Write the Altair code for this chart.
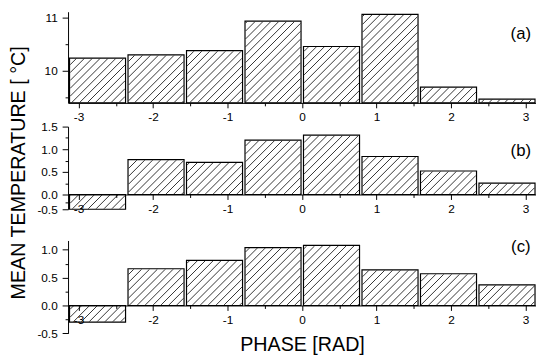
import math
import numpy as np
import pandas as pd
import altair as alt

# ---------------- data ----------------
phase_start = [-3.1416, -2.3562, -1.5708, -0.7854, 0.0, 0.7854, 1.5708, 2.3562]
phase_end = [-2.3562, -1.5708, -0.7854, 0.0, 0.7854, 1.5708, 2.3562, 3.1416]
temp_a = [10.24, 10.30, 10.38, 10.94, 10.46, 11.07, 9.69, 9.46]
temp_b = [-0.50, 0.77, 0.71, 1.20, 1.31, 0.84, 0.52, 0.25]
temp_c = [-0.30, 0.66, 0.81, 1.04, 1.08, 0.64, 0.57, 0.37]
panel_labels = ["(a)", "(b)", "(c)"]
x_major = [-3, -2, -1, 0, 1, 2, 3]
x_minor = [-2.5, -1.5, -0.5, 0.5, 1.5, 2.5]
x_title = "PHASE [RAD]"
y_title = "MEAN TEMPERATURE [ °C]"

FONT = "Liberation Sans"
W = 475.4
XDOM = [-3.1416, 3.1416]
HATCH = 8.0
LEFT = 60.5   # room left of the plot for labels and the y title

panels = [
    dict(values=temp_a, dom=[9.39, 11.12], rng=[92.6, 0], height=92.6, base=9.39,
         ymajor=[10, 11], yminor=[9.5, 10.5], yfmt="d",
         label_y=22.3, ytitle=None, xtitle=None),
    dict(values=temp_b, dom=[-0.5, 0, 1.5], rng=[84, 69, 0], height=91.3, base=0.0,
         ymajor=[-0.5, 0, 0.5, 1.0, 1.5], yminor=[-0.25, 0.25, 0.75, 1.25], yfmt=".1f",
         label_y=25, ytitle=y_title, xtitle=None),
    dict(values=temp_c, dom=[-0.5, 1.168], rng=[94.3, 0], height=94.3, base=0.0,
         ymajor=[-0.5, 0, 0.5, 1.0], yminor=[-0.25, 0.25, 0.75], yfmt=".1f",
         label_y=7, ytitle=None, xtitle=x_title),
]


def xpx(v):
    return (v - XDOM[0]) / (XDOM[1] - XDOM[0]) * W


def xinv(p):
    return XDOM[0] + p / W * (XDOM[1] - XDOM[0])


def hatch_rows(values, dom, rng, base):
    rows = []
    rr = list(rng)[::-1]
    dd = list(dom)[::-1]
    for s, e, v in zip(phase_start, phase_end, values):
        x0 = xpx(s) + 2.1
        x1 = xpx(e) - 1.6
        yv = float(np.interp(v, dom, rng))
        yb = float(np.interp(base, dom, rng))
        yt = min(yv, yb) + 0.6
        ybt = max(yv, yb) - 0.6
        c = math.ceil((x0 + yt) / HATCH) * HATCH
        while c < x1 + ybt:
            xs = max(x0, c - ybt)
            xe = min(x1, c - yt)
            if xe > xs + 0.3:
                rows.append(dict(hx=xinv(xs), hx2=xinv(xe),
                                 hy=float(np.interp(c - xs, rr, dd)),
                                 hy2=float(np.interp(c - xe, rr, dd))))
            c += HATCH
    return pd.DataFrame(rows)


def signed(fmt):
    return "(datum.value < 0 ? '-' : '') + format(abs(datum.value), '%s')" % fmt


charts = []
for i, p in enumerate(panels):
    yscale = alt.Scale(domain=p["dom"], range=p["rng"], nice=False, zero=False)
    xscale = alt.Scale(domain=XDOM, nice=False, zero=False)
    zero_px = float(np.interp(0.0, p["dom"], p["rng"])) if i > 0 else p["height"]
    x_off = zero_px - p["height"]

    bars = pd.DataFrame({"start": phase_start, "end": phase_end,
                         "temp": p["values"], "base": [p["base"]] * 8})

    xaxis_kw = dict(values=x_major, labelExpr=signed("d"), tickSize=5,
                    labelPadding=4, labelOverlap=False, labelFlush=False,
                    offset=x_off, orient="bottom", labelFontSize=12)
    if p["xtitle"]:
        xaxis_kw.update(title=p["xtitle"], titleFontSize=20, titleY=40,
                        titleBaseline="middle")
    else:
        xaxis_kw.update(title=None)

    yaxis_kw = dict(values=p["ymajor"], labelExpr=signed(p["yfmt"]), tickSize=6,
                    labelPadding=5, labelOverlap=False, labelFlush=False,
                    orient="left", labelFontSize=12)
    if p["ytitle"]:
        yaxis_kw.update(title=p["ytitle"], titleFontSize=20, titleX=-50.5,
                        titleY=46.5, titleBaseline="middle", titleAlign="center",
                        titleAngle=270)
    else:
        yaxis_kw.update(title=None)

    hatch = alt.Chart(hatch_rows(p["values"], p["dom"], p["rng"], p["base"])).mark_rule(
        color="black", strokeWidth=0.8
    ).encode(
        x=alt.X("hx:Q", scale=xscale, axis=None),
        x2="hx2:Q",
        y=alt.Y("hy:Q", scale=yscale, axis=None),
        y2="hy2:Q",
    )

    outline = alt.Chart(bars).mark_rect(
        fillOpacity=0, stroke="black", strokeWidth=1.2, xOffset=1.5, x2Offset=-1
    ).encode(
        x=alt.X("start:Q", scale=xscale, axis=alt.Axis(**xaxis_kw)),
        x2="end:Q",
        y=alt.Y("temp:Q", scale=yscale, axis=alt.Axis(**yaxis_kw)),
        y2="base:Q",
    )

    minor = alt.Chart(bars).mark_point(opacity=0).encode(
        x=alt.X("start:Q", scale=xscale,
                axis=alt.Axis(values=x_minor, tickSize=3, labels=False, domain=False,
                              offset=x_off, orient="bottom", title=None)),
        y=alt.Y("temp:Q", scale=yscale,
                axis=alt.Axis(values=p["yminor"], tickSize=3, labels=False, domain=False,
                              orient="left", title=None)),
    )

    lab = alt.Chart(pd.DataFrame({"t": [panel_labels[i]]})).mark_text(
        font=FONT, fontSize=17, align="center", baseline="middle", color="black"
    ).encode(text="t:N", x=alt.value(460), y=alt.value(p["label_y"]))

    layers = [hatch, outline, minor, lab]
    if i == 1:
        anchor = alt.Chart(pd.DataFrame({"a": [0]})).mark_rule(
            opacity=0, strokeWidth=0
        ).encode(x=alt.value(-LEFT), x2=alt.value(-LEFT), y=alt.value(40), y2=alt.value(41))
        layers.append(anchor)

    charts.append(
        alt.layer(*layers)
        .resolve_axis(x="independent", y="independent")
        .properties(width=W, height=p["height"])
    )

chart = alt.vconcat(*charts, spacing=23.7, bounds="flush").properties(
    padding=0
).configure_view(stroke=None).configure_axis(
    labelFont=FONT, titleFont=FONT, labelColor="black", titleColor="black",
    domainColor="black", tickColor="black", grid=False, titleFontWeight="normal",
    domainWidth=1, tickWidth=1
)

chart.save("out.html", embed_options={"renderer": "svg", "actions": False})
